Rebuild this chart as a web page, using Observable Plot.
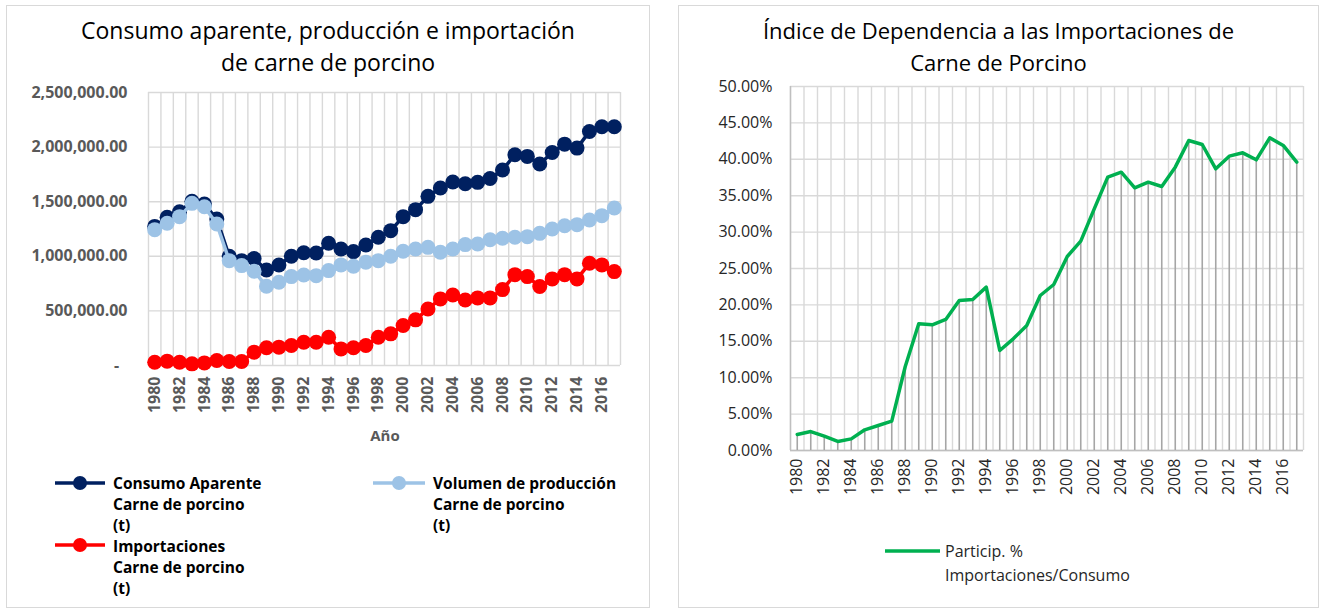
<!DOCTYPE html>
<html>
<head>
<meta charset="utf-8">
<script src="https://cdn.jsdelivr.net/npm/d3@7"></script>
<script src="https://cdn.jsdelivr.net/npm/@observablehq/plot@0.6"></script>
<style>
  html, body { margin: 0; padding: 0; background: #fff; }
  body { width: 1320px; height: 610px; position: relative; overflow: hidden; font-family: "Open Sans", sans-serif; }
  .panel { position: absolute; border: 1.5px solid #D9D9D9; box-sizing: border-box; background: #fff; }
  .abs { position: absolute; }
  .title { position: absolute; text-align: center; font-size: 22px; line-height: 32px; color: #000; white-space: nowrap; }
  .leg { position: absolute; font-size: 15.5px; line-height: 21px; font-weight: bold; color: #000; white-space: nowrap; }
  .leg2 { position: absolute; font-size: 16px; line-height: 24px; color: #262626; white-space: nowrap; }
  svg.sw { position: absolute; overflow: visible; }
</style>
</head>
<body>
<div class="panel" style="left:6px; top:5px; width:644px; height:603px;"></div>
<div class="panel" style="left:678px; top:5px; width:641px; height:603px;"></div>

<div class="title" style="left:6px; width:644px; top:14px; font-size:23px;">Consumo aparente, producción e importación<br>de carne de porcino</div>
<div class="title" style="left:678px; width:641px; top:14px;">Índice de Dependencia a las Importaciones de<br>Carne de Porcino</div>

<div id="left" class="abs" style="left:0px; top:80px;"></div>
<div id="right" class="abs" style="left:680px; top:80px;"></div>

<div class="abs" style="left:335px; width:100px; top:425px; text-align:center; font-size:15px; font-weight:bold; color:#595959;">Año</div>

<!-- legend swatches -->
<svg class="sw" style="left:0; top:0;" width="1320" height="610" id="legsvg"></svg>

<div class="leg" style="left:113px; top:473px;">Consumo Aparente<br>Carne de porcino<br>(t)</div>
<div class="leg" style="left:433px; top:473px;">Volumen de producción<br>Carne de porcino<br>(t)</div>
<div class="leg" style="left:113px; top:536px;">Importaciones<br>Carne de porcino<br>(t)</div>
<div class="leg2" style="left:945px; top:539px;">Particip. %<br>Importaciones/Consumo</div>

<script>
// ---------- DATA ----------
const years = [1980,1981,1982,1983,1984,1985,1986,1987,1988,1989,1990,1991,1992,1993,1994,1995,1996,1997,1998,1999,2000,2001,2002,2003,2004,2005,2006,2007,2008,2009,2010,2011,2012,2013,2014,2015,2016,2017];
const tickYears = [1980,1982,1984,1986,1988,1990,1992,1994,1996,1998,2000,2002,2004,2006,2008,2010,2012,2014,2016];

const consumo = [1274000,1357000,1408000,1503000,1479000,1341000,1000000,960000,980000,875000,920000,1000000,1033000,1030000,1120000,1067000,1043000,1104000,1174000,1235000,1363000,1427000,1549000,1625000,1680000,1665000,1677000,1713000,1790000,1930000,1915000,1845000,1951000,2027000,1991000,2143000,2186000,2186000];
const produccion = [1244000,1302000,1363000,1485000,1454000,1296000,960000,915000,863000,726000,762000,814000,829000,823000,869000,921000,909000,945000,960000,1000000,1046000,1067000,1082000,1037000,1067000,1107000,1113000,1152000,1165000,1174000,1180000,1210000,1250000,1280000,1290000,1332000,1372000,1442000];
const importaciones = [30000,40000,30000,15000,24000,46000,37000,37000,122000,162000,168000,183000,213000,213000,259000,152000,162000,183000,259000,290000,366000,418000,518000,610000,646000,600000,619000,619000,695000,832000,814000,723000,793000,832000,793000,936000,921000,860000];
const participacion = [2.2,2.6,1.97,1.24,1.6,2.84,3.43,4.03,11.54,17.4,17.26,18.0,20.6,20.74,22.44,13.74,15.34,17.17,21.29,22.8,26.65,28.75,33.2,37.55,38.23,36.08,36.86,36.26,38.92,42.58,42.03,38.69,40.43,40.89,39.93,42.95,41.9,39.6];

const volTicks = [0,500000,1000000,1500000,2000000,2500000];
const pctTicks = [0,0.05,0.10,0.15,0.20,0.25,0.30,0.35,0.40,0.45,0.50];

const seriesNames = ["Consumo Aparente Carne de porcino (t)", "Volumen de producción Carne de porcino (t)", "Importaciones Carne de porcino (t)"];
const seriesColors = ["#002060", "#9DC3E6", "#FF0000"];
const greenColor = "#00B050";

// ---------- TABLES ----------
const seriesValues = [consumo, produccion, importaciones];
const series = seriesValues.map((vals, i) => years.map((y, j) => ({year: y, v: vals[j], s: seriesNames[i]})));
const pctData = years.map((y, j) => ({year: y, p: participacion[j] / 100}));
const bounds = years.map(y => y - 0.5).concat([years[years.length - 1] + 0.5]);

const fmtVol = d => d === 0 ? "-\u00a0\u00a0" : d3.format(",.2f")(d);

// ---------- LEFT CHART ----------
const leftMarks = [
  Plot.ruleY(volTicks, {stroke: "#D9D9D9", strokeWidth: 1.4}),
  Plot.ruleX(bounds, {stroke: "#D9D9D9", strokeWidth: 1.4})
];
series.forEach((data, i) => {
  leftMarks.push(Plot.line(data, {x: "year", y: "v", stroke: seriesColors[i], strokeWidth: 3.5}));
  leftMarks.push(Plot.dot(data, {x: "year", y: "v", r: 7.5, fill: seriesColors[i], stroke: "none"}));
});

const left = Plot.plot({
  width: 650, height: 340,
  marginLeft: 148, marginRight: 30, marginTop: 12, marginBottom: 55,
  style: {fontFamily: "Open Sans", fontSize: "16px", fontWeight: "bold", color: "#595959", background: "transparent", overflow: "visible"},
  x: {type: "linear", domain: [1979.5, 2017.5], ticks: tickYears, tickFormat: d => String(d), tickRotate: -90, tickSize: 0, tickPadding: 11, label: null},
  y: {type: "linear", domain: [0, 2500000], ticks: volTicks, tickFormat: fmtVol, tickSize: 0, tickPadding: 21, label: null},
  marks: leftMarks
});
document.getElementById("left").appendChild(left);

// ---------- RIGHT CHART ----------
const right = Plot.plot({
  width: 638, height: 420,
  marginLeft: 110, marginRight: 15, marginTop: 6, marginBottom: 50,
  style: {fontFamily: "Open Sans", fontSize: "16px", color: "#262626", background: "transparent", overflow: "visible"},
  x: {type: "linear", domain: [1979.5, 2017.5], ticks: tickYears, tickFormat: d => String(d), tickRotate: -90, tickSize: 0, tickPadding: 8, label: null},
  y: {type: "linear", domain: [0, 0.5], ticks: pctTicks, tickFormat: d3.format(".2%"), tickSize: 0, tickPadding: 18, label: null},
  marks: [
    Plot.ruleY(pctTicks, {stroke: "#D9D9D9", strokeWidth: 1.4}),
    Plot.ruleX(bounds, {stroke: "#D9D9D9", strokeWidth: 1.4}),
    Plot.ruleX([bounds[0]], {stroke: "#BFBFBF", strokeWidth: 1.4}),
    Plot.ruleY([0], {stroke: "#BFBFBF", strokeWidth: 1.4}),
    Plot.ruleX(pctData, {x: "year", y1: 0, y2: "p", stroke: "#A6A6A6", strokeWidth: 1.6}),
    Plot.line(pctData, {x: "year", y: "p", stroke: greenColor, strokeWidth: 3.5})
  ]
});
document.getElementById("right").appendChild(right);

// ---------- LEGEND SWATCHES ----------
const legSvg = d3.select("#legsvg");
const sw = [
  {x1: 55, x2: 105, y: 483, c: seriesColors[0], dot: true},
  {x1: 373, x2: 425, y: 483, c: seriesColors[1], dot: true},
  {x1: 55, x2: 105, y: 545, c: seriesColors[2], dot: true},
  {x1: 885, x2: 940, y: 551, c: greenColor, dot: false}
];
sw.forEach(s => {
  legSvg.append("line").attr("x1", s.x1).attr("x2", s.x2).attr("y1", s.y).attr("y2", s.y)
    .attr("stroke", s.c).attr("stroke-width", 3.5);
  if (s.dot) legSvg.append("circle").attr("cx", (s.x1 + s.x2) / 2).attr("cy", s.y).attr("r", 7).attr("fill", s.c);
});
</script>
</body>
</html>
